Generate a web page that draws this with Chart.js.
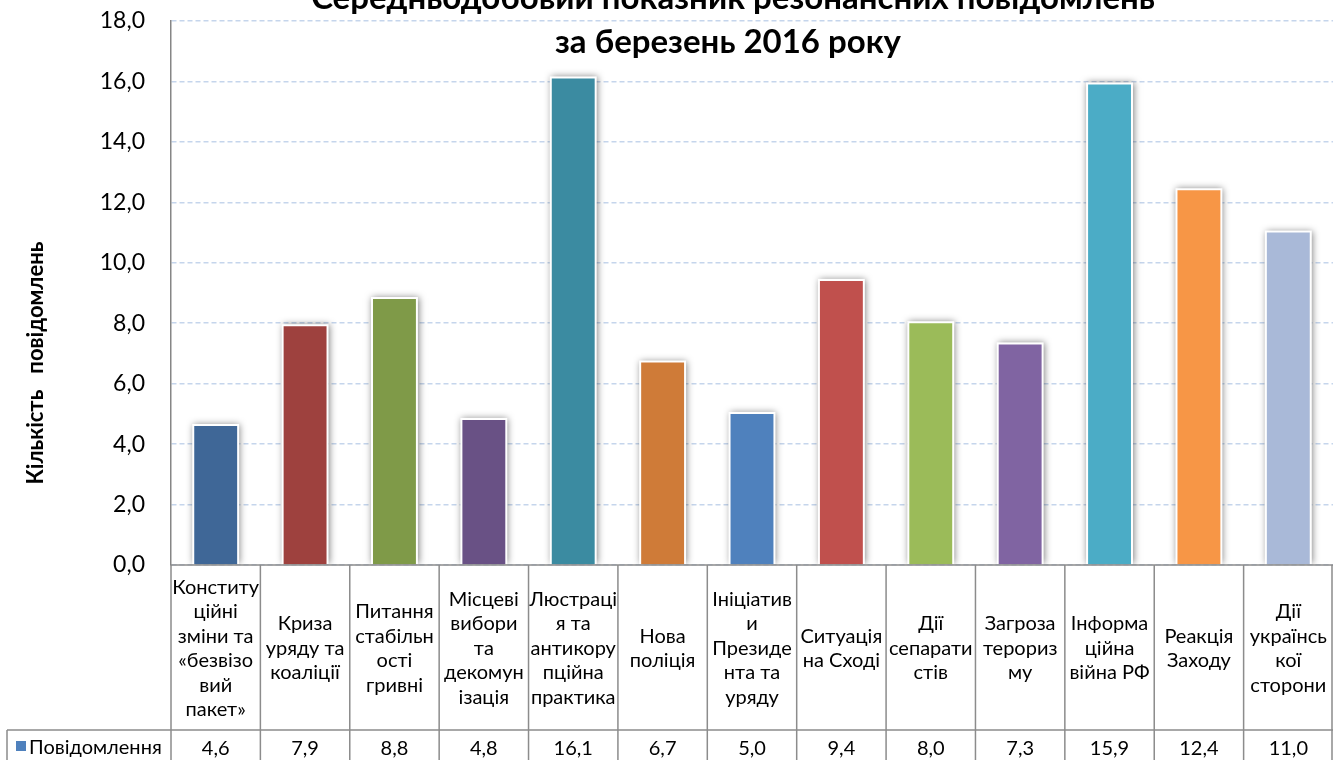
<!DOCTYPE html>
<html>
<head>
<meta charset="utf-8">
<script src="https://cdn.jsdelivr.net/npm/chart.js@4.4.0/dist/chart.umd.min.js"></script>
<style>
  body { margin: 0; background: #fff; }
  #wrap { width: 1333px; height: 760px; position: relative; }
</style>
</head>
<body>
<div id="wrap"><canvas id="chart"></canvas></div>
<script>
// Дані
const categories = [
  ['Конститу', 'ційні', 'зміни та', '«безвізо', 'вий', 'пакет»'],
  ['Криза', 'уряду та', 'коаліції'],
  ['Питання', 'стабільн', 'ості', 'гривні'],
  ['Місцеві', 'вибори', 'та', 'декомун', 'ізація'],
  ['Люстраці', 'я та', 'антикору', 'пційна', 'практика'],
  ['Нова', 'поліція'],
  ['Ініціатив', 'и', 'Президе', 'нта та', 'уряду'],
  ['Ситуація', 'на Сході'],
  ['Дії', 'сепарати', 'стів'],
  ['Загроза', 'терориз', 'му'],
  ['Інформа', 'ційна', 'війна РФ'],
  ['Реакція', 'Заходу'],
  ['Дії', 'українсь', 'кої', 'сторони']
];
const values = [4.6, 7.9, 8.8, 4.8, 16.1, 6.7, 5.0, 9.4, 8.0, 7.3, 15.9, 12.4, 11.0];
const barColors = [
  '#3F6797', '#9E413E', '#7F9A48', '#695185', '#3B8BA1', '#CF7B38', '#4F81BD',
  '#C0504D', '#9BBB59', '#8064A2', '#4BACC6', '#F79646', '#A9B9D8'
];
const seriesName = 'Повідомлення';
const titleLines = ['Середньодобовий показник резонансних повідомлень', 'за березень 2016 року'];
const yTitle = 'Кількість   повідомлень';

const FONT = 'Lato, "Open Sans", sans-serif';
const fmt = v => v.toFixed(1).replace('.', ',');

// Тінь та біла рамка під стовпчиками
const barShadow = {
  id: 'barShadow',
  beforeDatasetsDraw(chart) {
    const { ctx, chartArea } = chart;
    const meta = chart.getDatasetMeta(0);
    ctx.save();
    ctx.beginPath();
    ctx.rect(chartArea.left, chartArea.top - 10, chartArea.right - chartArea.left, chartArea.bottom - chartArea.top + 10);
    ctx.clip();
    ctx.shadowColor = 'rgba(0,0,0,0.5)';
    ctx.shadowBlur = 7;
    ctx.shadowOffsetX = 1;
    ctx.shadowOffsetY = 0;
    ctx.fillStyle = '#fff';
    meta.data.forEach(bar => {
      const p = bar.getProps(['x', 'y', 'width', 'base'], true);
      ctx.fillRect(p.x - p.width / 2 - 2, p.y - 2, p.width + 4, p.base - p.y + 2);
    });
    ctx.restore();
  }
};

// Таблиця даних під графіком
const dataTable = {
  id: 'dataTable',
  afterDraw(chart) {
    const { ctx, chartArea, scales: { x } } = chart;
    const top = chartArea.bottom, mid = 730, bottom = 760;
    const half = (x.getPixelForValue(1) - x.getPixelForValue(0)) / 2;
    ctx.save();
    ctx.strokeStyle = '#8c8c8c';
    ctx.lineWidth = 1.5;
    ctx.beginPath();
    ctx.moveTo(chartArea.left, top); ctx.lineTo(chartArea.right, top);
    ctx.moveTo(7, mid); ctx.lineTo(chartArea.right, mid);
    ctx.moveTo(7, mid); ctx.lineTo(7, bottom);
    for (let i = 0; i <= categories.length; i++) {
      const px = i < categories.length ? x.getPixelForValue(i) - half : x.getPixelForValue(i - 1) + half - 1;
      ctx.moveTo(px, top); ctx.lineTo(px, bottom);
    }
    ctx.stroke();

    ctx.fillStyle = '#000';
    ctx.font = '20px ' + FONT;
    ctx.textAlign = 'center';
    ctx.textBaseline = 'middle';
    const lh = 24.5;
    const cy = (top + mid) / 2 + 1;
    categories.forEach((lines, i) => {
      const cx = x.getPixelForValue(i);
      const y0 = cy - (lines.length - 1) * lh / 2;
      lines.forEach((t, j) => ctx.fillText(t, cx, y0 + j * lh));
      ctx.fillText(fmt(values[i]), cx, mid + 19);
    });

    // легенда в таблиці
    ctx.fillStyle = '#4F81BD';
    ctx.fillRect(16, 741, 10, 10);
    ctx.fillStyle = '#000';
    ctx.textAlign = 'left';
    ctx.fillText(seriesName, 29, mid + 18);
    ctx.restore();
  }
};

// Заголовки
const titles = {
  id: 'titles',
  afterDraw(chart) {
    const { ctx } = chart;
    ctx.save();
    ctx.fillStyle = '#000';
    ctx.textAlign = 'center';
    ctx.textBaseline = 'alphabetic';
    ctx.font = 'bold 33px ' + FONT;
    ctx.fillText(titleLines[0], 733, 9);
    ctx.fillText(titleLines[1], 728, 53);

    ctx.translate(36, 363);
    ctx.rotate(-Math.PI / 2);
    ctx.textBaseline = 'middle';
    ctx.font = 'bold 22px ' + FONT;
    ctx.fillText(yTitle, 0, 0);
    ctx.restore();
  }
};

new Chart(document.getElementById('chart'), {
  type: 'bar',
  data: {
    labels: categories,
    datasets: [{
      label: seriesName,
      data: values,
      backgroundColor: barColors,
      borderWidth: 0,
      categoryPercentage: 1,
      barPercentage: 0.48
    }]
  },
  options: {
    responsive: true,
    maintainAspectRatio: false,
    animation: false,
    layout: { padding: { top: 21, bottom: 195, left: 0, right: 0 } },
    plugins: {
      legend: { display: false },
      tooltip: { enabled: false },
      title: { display: false }
    },
    scales: {
      x: { display: false },
      y: {
        min: 0,
        max: 18,
        ticks: {
          stepSize: 2,
          padding: 26,
          color: '#000',
          font: { family: FONT, size: 23 },
          callback: v => fmt(v)
        },
        grid: { color: '#c5d5ec', lineWidth: 1.5, drawTicks: false },
        border: { color: '#868686', width: 1.5, dash: [5, 3] },
        afterFit(s) {
          s.width = 171;
          s.paddingTop = 0;
          s.paddingBottom = 0;
        }
      }
    }
  },
  plugins: [barShadow, dataTable, titles]
});
</script>
</body>
</html>
